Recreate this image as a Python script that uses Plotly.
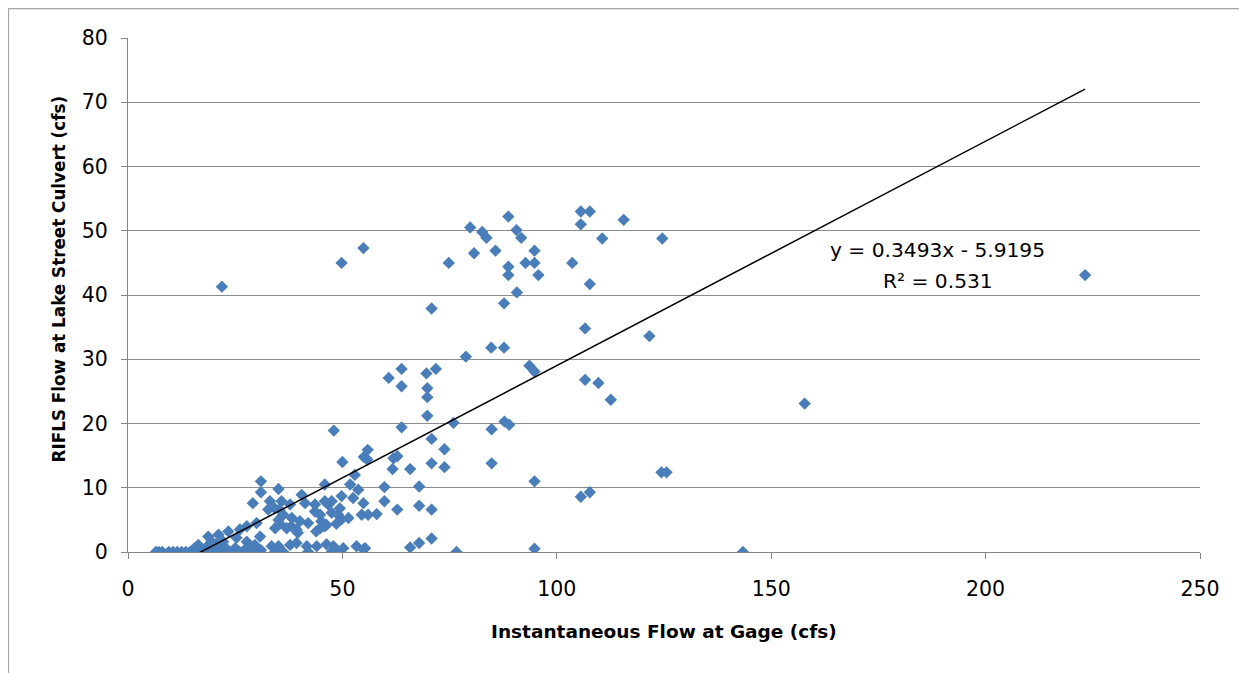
import plotly.graph_objects as go

# Instantaneous flow at gage (cfs) and RIFLS flow at Lake Street culvert (cfs)
gage_flow = [
    6.5, 7.2, 8.0, 9.5, 10.5, 11.5, 12.5, 13.5, 14.5, 15.3, 16.2, 17.0, 18.0, 19.0, 20.0,
    21.0, 22.0, 23.0, 24.0, 25.0, 26.0, 27.0, 28.0, 29.0, 30.0, 31.0, 15.5, 18.5, 20.5, 22.5,
    16.4, 18.7, 19.5, 21.1, 22.2, 23.4, 25.3, 26.1, 27.7, 27.7, 29.6, 30.0,
    31.0, 31.0, 35.1, 29.1, 33.1, 35.8, 35.3, 32.7, 45.9, 51.8, 52.9, 53.7, 49.8, 52.5,
    40.5, 41.3, 37.8, 43.6, 45.9, 46.7, 47.5, 36.2, 35.1, 38.2, 40.1, 43.6, 44.8, 45.1,
    47.5, 49.4, 49.0, 51.4, 54.5, 56.0, 54.9, 34.3, 37.0, 39.3, 44.8, 46.3, 29.2, 30.8,
    33.5, 35.1, 37.8, 39.3, 41.7, 44.0, 47.9, 50.2, 53.3, 55.3, 30.8, 34.3, 36.2, 42.0, 49.0,
    48.0, 50.0, 34.2, 46.3, 47.6, 48.6, 35.4, 43.9, 42.0, 45.8, 38.1, 39.6,
    63.8, 69.8, 69.8, 69.8, 63.8, 75.9, 84.8, 87.8, 88.9, 70.8, 73.8, 55.9, 55.0, 55.8,
    61.9, 62.8, 61.7, 65.8, 70.8, 73.8, 84.8, 59.8, 67.9, 94.8, 59.8, 62.8, 67.9, 70.8,
    58.0, 49.8, 70.8, 67.9, 65.8, 54.9, 76.6, 94.8,
    60.8, 63.8, 69.6, 71.8,
    21.9, 49.8, 54.9, 74.8, 70.8, 80.7, 85.7, 88.7, 88.7, 92.7, 94.8, 94.8, 95.7, 90.7,
    87.7, 84.7, 87.7, 78.8, 88.7, 79.8, 82.6, 83.6, 90.6, 91.7, 105.6, 107.7, 105.6, 115.6,
    110.6, 124.6, 103.6, 107.7, 106.6, 121.6, 93.6, 94.8, 106.6, 109.7, 112.6, 124.4, 125.6,
    105.6, 107.7, 157.8, 143.4, 223.2,
]
rifls_flow = [
    0.0, 0.0, 0.0, 0.0, 0.0, 0.0, 0.0, 0.0, 0.0, 0.0, 0.0, 0.3, 0.0, 0.2, 0.0,
    0.5, 0.0, 0.3, 0.0, 0.6, 0.0, 0.2, 0.0, 0.5, 0.0, 0.3, 0.6, 0.9, 1.2, 0.8,
    1.1, 2.4, 1.6, 2.7, 1.6, 3.2, 2.2, 3.5, 4.0, 1.6, 1.1, 4.5,
    11.0, 9.3, 9.8, 7.6, 7.9, 7.9, 6.6, 6.6, 10.5, 10.5, 12.0, 9.7, 8.7, 8.4,
    8.9, 7.6, 7.4, 7.4, 7.9, 7.4, 7.9, 5.8, 5.0, 5.3, 4.8, 6.3, 5.8, 4.8,
    6.1, 6.8, 5.8, 5.3, 5.8, 5.8, 7.6, 3.7, 3.7, 3.5, 3.7, 4.2, 0.4, 2.4,
    0.9, 0.9, 1.1, 1.4, 0.9, 0.9, 0.9, 0.6, 0.9, 0.6, 0.0, 0.0, 0.0, 0.0, 0.0,
    18.9, 14.0, 6.8, 1.2, 0.1, 4.4, 4.4, 3.2, 4.5, 4.0, 4.0, 3.0,
    25.8, 25.5, 24.1, 21.2, 19.4, 20.1, 19.1, 20.3, 19.8, 17.6, 16.0, 15.9, 14.8, 14.4,
    14.6, 14.9, 12.9, 12.9, 13.8, 13.2, 13.8, 10.1, 10.2, 11.0, 7.9, 6.6, 7.2, 6.6,
    5.9, 5.1, 2.1, 1.4, 0.7, 0.4, 0.0, 0.5,
    27.1, 28.5, 27.8, 28.5,
    41.3, 45.0, 47.3, 45.0, 37.9, 46.5, 46.9, 44.4, 43.1, 45.0, 45.0, 46.9, 43.1, 40.4,
    38.7, 31.8, 31.8, 30.4, 52.2, 50.5, 49.8, 48.9, 50.1, 48.9, 53.0, 53.0, 51.0, 51.7,
    48.8, 48.8, 45.0, 41.7, 34.8, 33.6, 29.0, 28.1, 26.8, 26.3, 23.7, 12.4, 12.4,
    8.6, 9.3, 23.1, 0.0, 43.1,
]

# Linear trendline as labelled on the chart
slope = 0.3493
intercept = -5.9195
r_squared = 0.531

x_ticks = [0, 50, 100, 150, 200, 250]
y_ticks = [0, 10, 20, 30, 40, 50, 60, 70, 80]

x_title = "Instantaneous Flow at Gage (cfs)"
y_title = "RIFLS Flow at Lake Street Culvert (cfs)"

FONT = "DejaVu Sans"

trend_x = [min(gage_flow), max(gage_flow)]
trend_y = [slope * v + intercept for v in trend_x]

fig = go.Figure()
fig.add_trace(go.Scatter(
    x=gage_flow, y=rifls_flow, mode="markers",
    marker=dict(symbol="diamond", size=9.5, color="#4A7EBB", line=dict(width=0)),
    showlegend=False, cliponaxis=True,
))
fig.add_trace(go.Scatter(
    x=trend_x, y=trend_y, mode="lines",
    line=dict(color="black", width=1.5), showlegend=False,
))

axis_common = dict(
    showline=True, linecolor="#868686", linewidth=1.3,
    ticks="outside", ticklen=6, tickcolor="#868686", tickwidth=1.3,
    tickfont=dict(family=FONT, size=20.5, color="black"),
    zeroline=False,
)
fig.update_xaxes(range=[0, 250], tickvals=x_ticks, showgrid=False,
                 ticklabelstandoff=12, **axis_common)
fig.update_yaxes(range=[0, 80], tickvals=y_ticks, showgrid=True,
                 gridcolor="#8C8C8C", gridwidth=1.3, ticklabelstandoff=9, **axis_common)

fig.add_annotation(
    x=188.7, y=47.0, xref="x", yref="y",
    text=f"y = {slope}x - {abs(intercept)}",
    showarrow=False, align="center",
    font=dict(family=FONT, size=20.2, color="black"),
)
fig.add_annotation(
    x=188.9, y=42.2, xref="x", yref="y",
    text=f"R² = {r_squared}",
    showarrow=False, align="center",
    font=dict(family=FONT, size=20.2, color="black"),
)
fig.add_annotation(
    x=0.5, y=-0.1556, xref="paper", yref="paper", yanchor="middle",
    text=f"<b>{x_title}</b>", showarrow=False,
    font=dict(family=FONT, size=18.5, color="black"),
)
fig.add_annotation(
    x=-0.0645, y=0.532, xref="paper", yref="paper", xanchor="center", yanchor="middle",
    text=f"<b>{y_title}</b>", showarrow=False, textangle=-90,
    font=dict(family=FONT, size=16.8, color="black"),
)

# outer chart frame (left and top edges visible)
fig.add_shape(type="rect", xref="paper", yref="paper",
              x0=-0.1115, x1=1.2, y0=-0.5, y1=1.0574,
              line=dict(color="#A6A6A6", width=1.3), fillcolor="rgba(0,0,0,0)")

fig.update_layout(
    width=1239, height=665,
    margin=dict(l=120, r=47, t=30, b=121),
    paper_bgcolor="white", plot_bgcolor="white",
    font=dict(family=FONT),
)

fig.write_html("out.html")
